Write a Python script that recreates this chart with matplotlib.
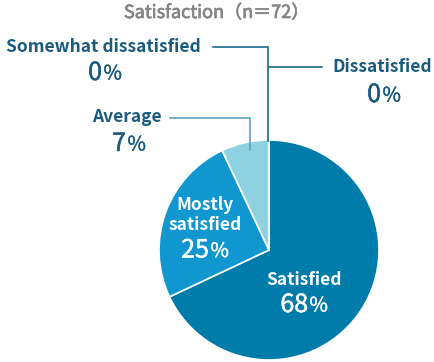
import matplotlib
matplotlib.use("Agg")
import matplotlib.pyplot as plt
import matplotlib.patheffects as pe

plt.rcParams['font.family'] = ['Noto Sans CJK JP', 'DejaVu Sans']

# ---- data -------------------------------------------------------------------
TITLE   = "Satisfaction（n＝72）"
labels  = ["Satisfied", "Mostly\nsatisfied", "Average", "Somewhat dissatisfied", "Dissatisfied"]
values  = [68, 25, 7, 0, 0]
colors  = ["#007cab", "#1097cf", "#8ed2e2", "#5aa8c4", "#1a5a7c"]

TXT   = "#1b5b7d"
GREY  = "#858585"
W, H  = 435, 362
CX, CY, R = 269, H - 250, 110

fig = plt.figure(figsize=(W / 100, H / 100), dpi=100)
ax = fig.add_axes([0, 0, 1, 1])
ax.set_xlim(0, W); ax.set_ylim(0, H); ax.set_aspect("equal"); ax.axis("off")

nz = [(v, c) for v, c in zip(values, colors) if v > 0]
ax.pie([v for v, _ in nz], colors=[c for _, c in nz], startangle=90,
       counterclock=False, center=(CX, CY), radius=R,
       wedgeprops=dict(edgecolor="white", linewidth=1.2))
ax.set_xlim(0, W); ax.set_ylim(0, H)

def thick(color, w=0.6):
    return [pe.withStroke(linewidth=w, foreground=color)]

def label(x, y, name, val, color, nsize=12.5, vsize=18, gap=24):
    ax.text(x, y, name, ha="center", va="center", color=color,
            fontsize=nsize, fontweight="bold", linespacing=1.1)
    nlines = name.count("\n")
    yv = y - gap - nlines * 9.5
    split = x - 1 + 5 * (len(str(val)) - 1)
    ax.text(split, yv, f"{val}", ha="right", va="center", color=color,
            fontsize=vsize, path_effects=thick(color, 0.35))
    ax.text(split + 1.5, yv - 1, "%", ha="left", va="center", color=color,
            fontsize=vsize * 0.8, path_effects=thick(color, 0.25))

ax.text(W / 2 - 1, H - 13, TITLE, ha="center", va="center", color=GREY,
        fontsize=13, path_effects=thick(GREY, 0.5))

# inside labels
label(304, H - 280, labels[0], values[0], "white", gap=25)
label(205, H - 215, labels[1], values[1], "white", gap=26)
# outside labels
label(127, H - 117, labels[2], values[2], TXT, gap=27)
label(103, H - 47, labels[3], values[3], TXT, gap=26)
label(382, H - 67, labels[4], values[4], TXT, gap=28)

# leader lines
ax.plot([170, 250, 250], [H - 118, H - 118, H - 150], color="#5aa3bd", lw=1.2,
        solid_joinstyle="miter")
ax.plot([213, 268, 268], [H - 47, H - 47, H - 141], color="#1b6a8c", lw=1.2,
        solid_joinstyle="miter")
ax.plot([268, 322], [H - 67, H - 67], color="#1b6a8c", lw=1.2)

fig.savefig("out.png", dpi=100)
